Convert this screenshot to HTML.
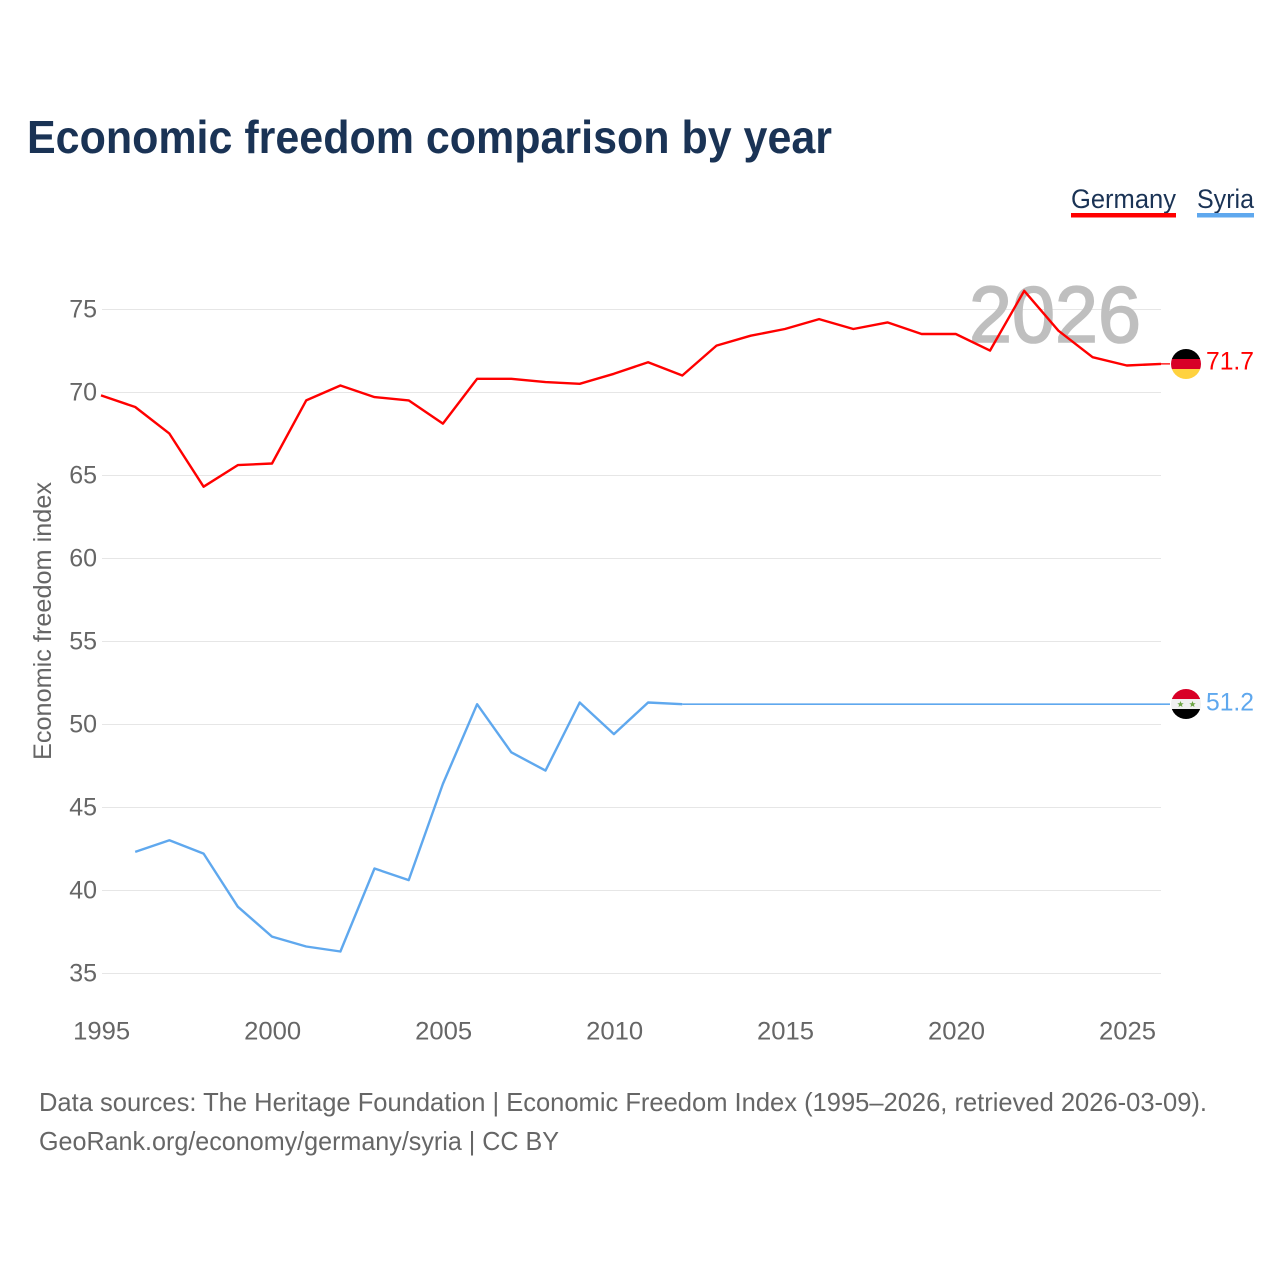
<!DOCTYPE html>
<html lang="en">
<head>
<meta charset="utf-8">
<title>Economic freedom comparison by year</title>
<style>
html,body{margin:0;padding:0;background:#fff;}
svg{display:block;font-family:"Liberation Sans",sans-serif;}
</style>
</head>
<body>
<svg id="chart" xmlns="http://www.w3.org/2000/svg" width="1280" height="1280" viewBox="0 0 1280 1280">
  <rect x="0" y="0" width="1280" height="1280" fill="#fff"/>
  <text x="27" y="153" font-size="46" font-weight="700" fill="#1a3355" textLength="805" lengthAdjust="spacingAndGlyphs">Economic freedom comparison by year</text>

  <g>
    <text x="1071" y="208" font-size="27" fill="#1a3355" textLength="105" lengthAdjust="spacingAndGlyphs">Germany</text>
    <rect x="1071" y="213" width="105" height="4.5" fill="#ff0000"/>
  </g>
  <g>
    <text x="1197" y="208" font-size="27" fill="#1a3355" textLength="57" lengthAdjust="spacingAndGlyphs">Syria</text>
    <rect x="1197" y="213" width="57" height="4.5" fill="#5fa8ee"/>
  </g>

  <g id="grid"></g>
  <text x="969" y="342" font-size="80" font-weight="400" fill="#bfbfbf" stroke="#bfbfbf" stroke-width="1.6" textLength="172" lengthAdjust="spacingAndGlyphs">2026</text>
  <g id="yticks"></g>
  <g id="xticks"></g>
  <text transform="translate(51 621) rotate(-90)" text-anchor="middle" font-size="25" fill="#666" textLength="278" lengthAdjust="spacingAndGlyphs">Economic freedom index</text>

  <g id="series" transform="translate(0 -0.4)"></g>

  <g>
    <clipPath id="clip-de"><circle cx="1186" cy="364" r="15"/></clipPath>
    <g clip-path="url(#clip-de)">
      <rect x="1171" y="349" width="30" height="10" fill="#000"/>
      <rect x="1171" y="359" width="30" height="10" fill="#d80027"/>
      <rect x="1171" y="369" width="30" height="10" fill="#ffd23f"/>
    </g>
  </g>
  <g>
    <clipPath id="clip-sy"><circle cx="1186" cy="704" r="15"/></clipPath>
    <g clip-path="url(#clip-sy)">
      <rect x="1171" y="689" width="30" height="10" fill="#d80027"/>
      <rect x="1171" y="699" width="30" height="10" fill="#f0f0f0"/>
      <rect x="1171" y="709" width="30" height="10" fill="#000"/>
      <polygon points="1180.5,701 1181.4,703.2 1183.7,703.3 1181.9,704.8 1182.5,707 1180.5,705.8 1178.5,707 1179.1,704.8 1177.3,703.3 1179.6,703.2" fill="#6da544"/>
      <polygon points="1192.5,701 1193.4,703.2 1195.7,703.3 1193.9,704.8 1194.5,707 1192.5,705.8 1190.5,707 1191.1,704.8 1189.3,703.3 1191.6,703.2" fill="#6da544"/>
    </g>
  </g>
  <text x="1206" y="369.5" font-size="25" fill="#ff0000" textLength="48" lengthAdjust="spacingAndGlyphs">71.7</text>
  <text x="1206" y="710.5" font-size="25" fill="#5fa8ee" textLength="48" lengthAdjust="spacingAndGlyphs">51.2</text>

  <text x="39" y="1111" font-size="26" fill="#666" textLength="1168" lengthAdjust="spacingAndGlyphs">Data sources: The Heritage Foundation | Economic Freedom Index (1995–2026, retrieved 2026-03-09).</text>
  <text x="39" y="1150" font-size="26" fill="#666" textLength="520" lengthAdjust="spacingAndGlyphs">GeoRank.org/economy/germany/syria | CC BY</text>
</svg>
<script>
const years = [1995,1996,1997,1998,1999,2000,2001,2002,2003,2004,2005,2006,2007,2008,2009,2010,2011,2012,2013,2014,2015,2016,2017,2018,2019,2020,2021,2022,2023,2024,2025,2026];
const germanyValues = [69.8,69.1,67.5,64.3,65.6,65.7,69.5,70.4,69.7,69.5,68.1,70.8,70.8,70.6,70.5,71.1,71.8,71.0,72.8,73.4,73.8,74.4,73.8,74.2,73.5,73.5,72.5,76.1,73.7,72.1,71.6,71.7];
const syriaValues = [null,42.3,43.0,42.2,39.0,37.2,36.6,36.3,41.3,40.6,46.4,51.2,48.3,47.2,51.3,49.4,51.3,51.2,51.2,51.2,51.2,51.2,51.2,51.2,51.2,51.2,51.2,51.2,51.2,51.2,51.2,51.2];
const syriaLastActualYear = 2012;
const yTickLabels = [35,40,45,50,55,60,65,70,75];
const xTickLabels = [1995,2000,2005,2010,2015,2020,2025];

const NS = 'http://www.w3.org/2000/svg';
function xScale(year) { return 101 + (year - 1995) * (1060 / 31); }
function yScale(value) { return 973.5 - (value - 35) * 16.6; }
function make(tag, parent) {
  const el = document.createElementNS(NS, tag);
  parent.appendChild(el);
  return el;
}

const grid = document.getElementById('grid');
const yticks = document.getElementById('yticks');
const xticks = document.getElementById('xticks');
const series = document.getElementById('series');

yTickLabels.forEach(function (t) {
  const line = make('line', grid);
  
  
  line.setAttribute('x1', 102);
  line.setAttribute('x2', 1161);
  line.setAttribute('y1', yScale(t));
  line.setAttribute('y2', yScale(t));
  line.setAttribute('stroke', '#e6e6e6');
  line.setAttribute('stroke-width', 1);

  const label = make('text', yticks);
  
  
  label.setAttribute('x', 97);
  label.setAttribute('y', yScale(t) + 8);
  label.setAttribute('text-anchor', 'end');
  label.setAttribute('font-size', 25);
  label.setAttribute('fill', '#666');
  label.textContent = t;
});

xTickLabels.forEach(function (t) {
  const label = make('text', xticks);
  
  
  label.setAttribute('x', xScale(t) + 0.7);
  label.setAttribute('y', 1039.5);
  label.setAttribute('text-anchor', 'middle');
  label.setAttribute('font-size', 25);
  label.setAttribute('fill', '#666');
  label.setAttribute('textLength', 57);
  label.setAttribute('lengthAdjust', 'spacingAndGlyphs');
  label.textContent = t;
});

function pathFrom(vals, fromYear, toYear) {
  const pts = [];
  vals.forEach(function (v, i) {
    const yr = years[i];
    if (v === null || yr < fromYear || yr > toYear) return;
    pts.push(xScale(yr).toFixed(1) + ',' + yScale(v).toFixed(1));
  });
  return pts.join(' ');
}

const germanyLine = make('polyline', series);


germanyLine.setAttribute('points', pathFrom(germanyValues, 1995, 2026));
germanyLine.setAttribute('fill', 'none');
germanyLine.setAttribute('stroke', '#ff0000');
germanyLine.setAttribute('stroke-width', 2.4);
germanyLine.setAttribute('stroke-linejoin', 'round');

const germanyLeader = make('line', series);


germanyLeader.setAttribute('x1', xScale(2026));
germanyLeader.setAttribute('x2', 1170);
germanyLeader.setAttribute('y1', yScale(germanyValues[germanyValues.length - 1]));
germanyLeader.setAttribute('y2', yScale(germanyValues[germanyValues.length - 1]));
germanyLeader.setAttribute('stroke', '#ff0000');
germanyLeader.setAttribute('stroke-width', 1.3);

const syriaLine = make('polyline', series);


syriaLine.setAttribute('points', pathFrom(syriaValues, 1995, syriaLastActualYear));
syriaLine.setAttribute('fill', 'none');
syriaLine.setAttribute('stroke', '#5fa8ee');
syriaLine.setAttribute('stroke-width', 2.4);
syriaLine.setAttribute('stroke-linejoin', 'round');

const syriaFlat = make('polyline', series);


syriaFlat.setAttribute('points', pathFrom(syriaValues, syriaLastActualYear, 2026));
syriaFlat.setAttribute('fill', 'none');
syriaFlat.setAttribute('stroke', '#5fa8ee');
syriaFlat.setAttribute('stroke-width', 1.6);

const syriaLeader = make('line', series);


syriaLeader.setAttribute('x1', xScale(2026));
syriaLeader.setAttribute('x2', 1170);
syriaLeader.setAttribute('y1', yScale(syriaValues[syriaValues.length - 1]));
syriaLeader.setAttribute('y2', yScale(syriaValues[syriaValues.length - 1]));
syriaLeader.setAttribute('stroke', '#5fa8ee');
syriaLeader.setAttribute('stroke-width', 1.6);
</script>
</body>
</html>
